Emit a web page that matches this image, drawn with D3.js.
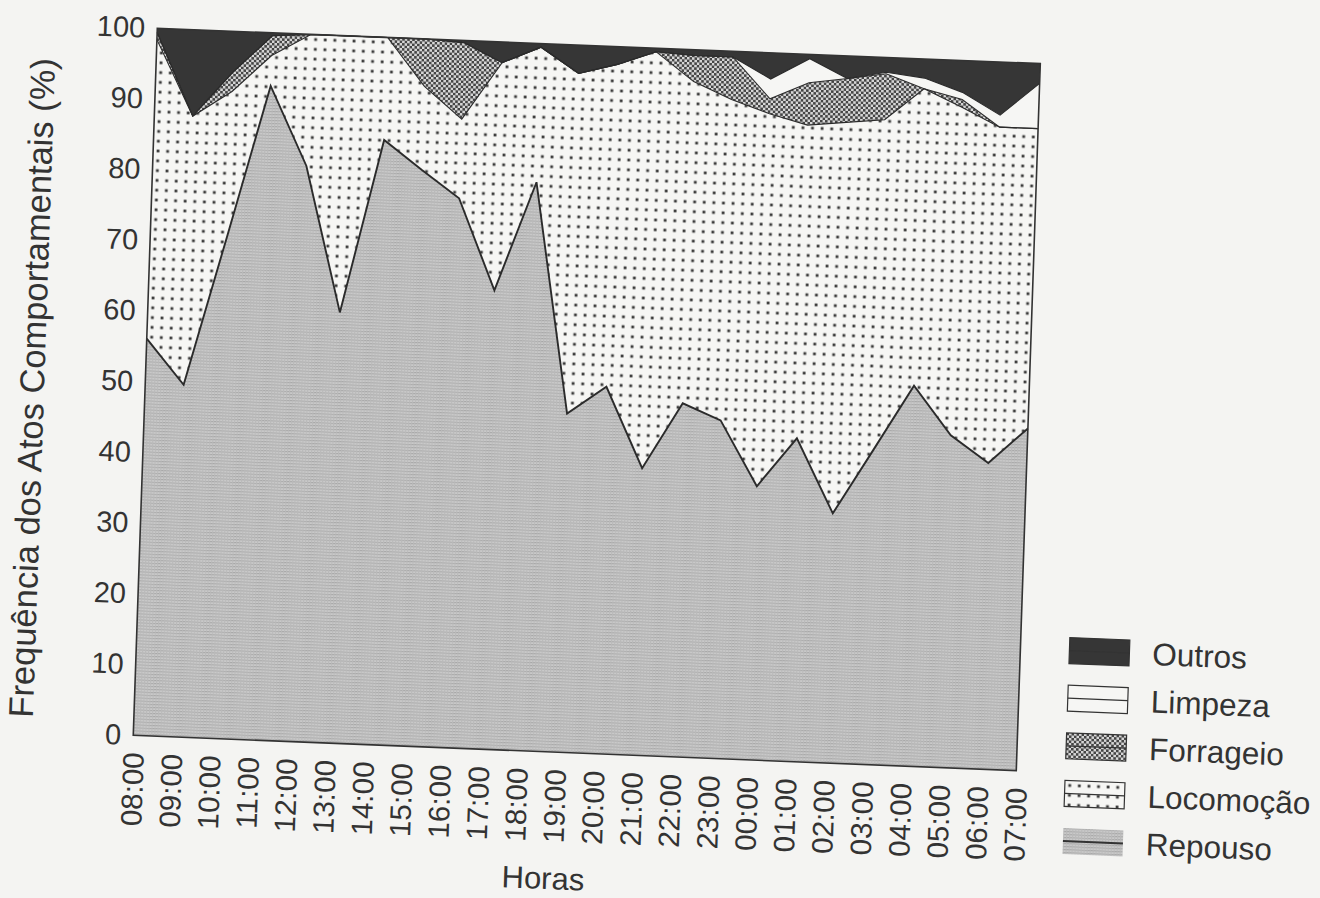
<!DOCTYPE html>
<html>
<head>
<meta charset="utf-8">
<script src="https://cdn.jsdelivr.net/npm/d3@7/dist/d3.min.js"></script>
<style>
body { margin: 0; background: #f4f4f2; }
svg { display: block; }
text { font-family: "Liberation Sans", Arial, sans-serif; fill: #333; }
</style>
</head>
<body>
<svg id="chart" width="1320" height="898"></svg>
<script>
// data (percent of behaviour acts per hour)
var hours = ["08:00","09:00","10:00","11:00","12:00","13:00","14:00","15:00","16:00","17:00","18:00","19:00",
             "20:00","21:00","22:00","23:00","00:00","01:00","02:00","03:00","04:00","05:00","06:00","07:00"];
var repouso   = [56.1,49.8,71.0,92.5,81.4,60.9,85.5,81.5,77.7,64.9,80.4,47.9,51.9,40.6,50.0,47.8,38.7,45.7,35.3,44.5,53.8,47.0,43.3,48.4];
var locomocao = [42.3,38.0,20.5, 4.3,18.6,39.1,14.5,11.8,11.2,32.2,19.1,48.1,45.6,58.9,45.5,45.4,52.7,44.3,55.3,46.7,42.0,46.4,47.5,42.4];
var forrageio = [ 1.0, 0.0, 2.7, 2.8, 0.0, 0.0, 0.0, 6.7,10.8, 0.0, 0.0, 0.0, 0.0, 0.0, 3.7, 6.0, 2.1, 6.0, 6.2, 6.5, 0.0, 1.1, 0.0, 0.0];
var limpeza   = [ 0.0, 0.0, 0.0, 0.0, 0.0, 0.0, 0.0, 0.0, 0.0, 0.0, 0.0, 0.0, 0.0, 0.0, 0.0, 0.0, 2.8, 3.4, 0.0, 0.2, 1.5, 1.0, 1.7, 6.4];
var outros    = [ 0.6,12.2, 5.8, 0.4, 0.0, 0.0, 0.0, 0.0, 0.3, 2.9, 0.5, 4.0, 2.5, 0.5, 0.8, 0.8, 3.7, 0.6, 3.2, 2.1, 2.7, 4.5, 7.5, 2.8];
var yTicks = [0,10,20,30,40,50,60,70,80,90,100];
var keys = ["Repouso","Locomoção","Forrageio","Limpeza","Outros"];
var legendOrder = ["Outros","Limpeza","Forrageio","Locomoção","Repouso"];

var width = 883;
var height = 707;

var rows = hours.map(function(h, i) {
    return { hour: h, "Repouso": repouso[i], "Locomoção": locomocao[i], "Forrageio": forrageio[i],
             "Limpeza": limpeza[i], "Outros": outros[i] };
});

var svg = d3.select("#chart");
var defs = svg.append("defs");

// fill textures of the old b/w plot
var pRep = defs.append("pattern").attr("id","p-rep").attr("patternUnits","userSpaceOnUse").attr("width",3).attr("height",3);
pRep.append("rect").attr("width",3).attr("height",3).attr("fill","#c9c9c9");
pRep.append("rect").attr("width",3).attr("height",1).attr("fill","#a8a8a8");
pRep.append("rect").attr("width",1).attr("height",3).attr("fill","#bababa");

var pLoc = defs.append("pattern").attr("id","p-loc").attr("patternUnits","userSpaceOnUse").attr("width",9.6).attr("height",9.8);
pLoc.append("rect").attr("width",9.6).attr("height",9.8).attr("fill","#f6f6f4");
pLoc.append("rect").attr("x",3.5).attr("y",3.5).attr("width",2.8).attr("height",2.8).attr("fill","#3a3a3a");

var pFor = defs.append("pattern").attr("id","p-for").attr("patternUnits","userSpaceOnUse").attr("width",5).attr("height",5);
pFor.append("rect").attr("width",5).attr("height",5).attr("fill","#d6d6d6");
pFor.append("rect").attr("width",2.5).attr("height",2.5).attr("fill","#454545");
pFor.append("rect").attr("x",2.5).attr("y",2.5).attr("width",2.5).attr("height",2.5).attr("fill","#454545");

var fills = { "Repouso": "url(#p-rep)", "Locomoção": "url(#p-loc)", "Forrageio": "url(#p-for)",
              "Limpeza": "#f6f6f4", "Outros": "#363636" };

// the scan is slightly tilted, so the whole figure sits in a skewed frame
var g = svg.append("g").attr("transform", "matrix(1,0.040,-0.034,1,157.3,28.3)");

var x = d3.scalePoint(hours, [0, width]);
var y = d3.scaleLinear([0, 100], [height, 0]);

var series = d3.stack().keys(keys)(rows);

var area = d3.area()
    .x(function(d) { return x(d.data.hour); })
    .y0(function(d) { return y(d[0]); })
    .y1(function(d) { return y(Math.min(100, d[1])); });

var topLine = d3.line()
    .x(function(d) { return x(d.data.hour); })
    .y(function(d) { return y(Math.min(100, d[1])); });

g.selectAll(".layer")
    .data(series)
    .enter()
    .append("path")
    .attr("class", "layer")
    .attr("d", area)
    .attr("fill", function(s) { return fills[s.key]; });

g.selectAll(".edge")
    .data(series.slice(0, 4))
    .enter()
    .append("path")
    .attr("class", "edge")
    .attr("d", topLine)
    .attr("fill", "none")
    .attr("stroke", "#2b2b2b")
    .attr("stroke-width", function(s) { return s.key == "Repouso" ? 1.9 : 1.1; });

// frame
g.append("rect")
    .attr("width", width)
    .attr("height", height)
    .attr("fill", "none")
    .attr("stroke", "#333")
    .attr("stroke-width", 1.6);

// axes
var yAxis = d3.axisLeft(y).tickValues(yTicks).tickSize(0).tickPadding(12);
var gy = g.append("g").call(yAxis);
gy.select(".domain").remove();
gy.selectAll("text").attr("font-size", 29).attr("fill", "#333").style("font-family", "Liberation Sans, Arial, sans-serif");

var xAxis = d3.axisBottom(x).tickSize(0);
var gx = g.append("g").attr("transform", "translate(0," + height + ")").call(xAxis);
gx.select(".domain").remove();
gx.selectAll("text")
    .attr("font-size", 29.5)
    .attr("fill", "#333")
    .style("font-family", "Liberation Sans, Arial, sans-serif")
    .attr("text-anchor", "end")
    .attr("transform", "rotate(-90)")
    .attr("x", -17)
    .attr("y", 0)
    .attr("dy", "0.36em");

g.append("text")
    .attr("transform", "translate(-113,364) rotate(-90)")
    .attr("text-anchor", "middle")
    .attr("dy", "0.35em")
    .attr("font-size", 34.5)
    .text("Frequência dos Atos Comportamentais (%)");

g.append("text")
    .attr("x", 414)
    .attr("y", 844)
    .attr("text-anchor", "middle")
    .attr("font-size", 31)
    .text("Horas");

// legend
var legend = g.append("g").attr("transform", "translate(932,572)");
var item = legend.selectAll(".item")
    .data(legendOrder)
    .enter()
    .append("g")
    .attr("transform", function(d, i) { return "translate(0," + (i * 47.6) + ")"; });

item.append("rect")
    .attr("width", 60)
    .attr("height", 26)
    .attr("fill", function(d) { return fills[d]; })
    .attr("stroke", function(d) { return d == "Repouso" ? "none" : "#333"; })
    .attr("stroke-width", 1.2);

item.append("line")
    .attr("x1", 0).attr("x2", 60)
    .attr("y1", 13).attr("y2", 13)
    .attr("stroke", "#333")
    .attr("stroke-width", function(d) { return d == "Repouso" ? 2 : 1.2; });

item.append("text")
    .attr("x", 83)
    .attr("y", 24)
    .attr("font-size", 31.5)
    .text(function(d) { return d; });
</script>
</body>
</html>
